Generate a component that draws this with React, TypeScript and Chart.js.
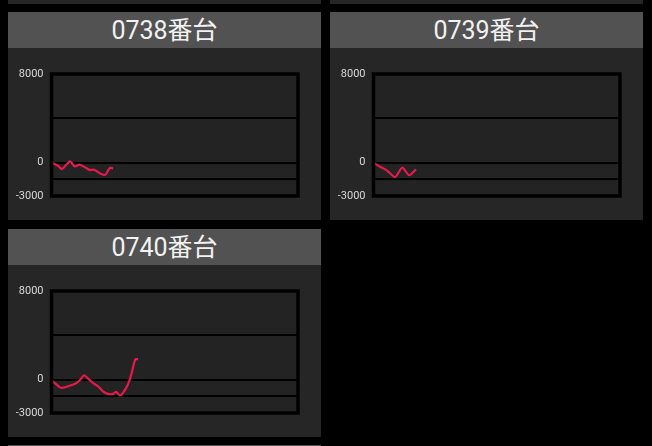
import React, { useEffect, useRef } from "react";
import { Chart, registerables } from "chart.js";

Chart.register(...registerables);

// ---- data ----
const MACHINES = ["0738番台", "0739番台", "0740番台"];
const HIDDEN_ABOVE = ["0736番台", "0737番台"];
const HIDDEN_BELOW = ["0741番台"];

const GAMES_0738 = [0, 210, 340, 600, 750, 920, 1130, 1240, 1380, 1620, 1750, 1890, 2000];
const DIFF_0738 = [0, -270, -570, 120, -330, -180, -480, -660, -630, -1020, -1080, -480, -510];

const GAMES_0739 = [0, 210, 430, 700, 930, 1160, 1380];
const DIFF_0739 = [0, -360, -690, -1290, -450, -1130, -600];

const GAMES_0740 = [0, 100, 320, 535, 750, 915, 1055, 1185, 1345, 1510, 1670, 1835, 2000, 2100, 2215, 2320, 2480, 2590, 2720, 2810];
const DIFF_0740 = [0, -290, -740, -590, -380, -70, 400, 110, -290, -590, -1040, -1280, -1280, -1100, -1420, -1190, -430, 470, 1850, 1850];

const SERIES_GAMES = [GAMES_0738, GAMES_0739, GAMES_0740];
const SERIES_DIFF = [DIFF_0738, DIFF_0739, DIFF_0740];

const Y_TICKS = [-3000, -1500, 0, 4000, 8000];
const Y_LABELED = [-3000, 0, 8000];
const X_MAX_GAMES = 8000;

// ---- layout/style ----
const PANEL_W = 313;
const PANEL_H = 208;
const HEADER_H = 36;
const BODY_H = PANEL_H - HEADER_H;
const COL_X = [8, 330];
const ROW_PITCH = 216.5;
const ROW0_TOP = 12;

const plotFrame = {
  id: "plotFrame",
  beforeDraw(chart: any) {
    const a = chart.chartArea;
    const ctx = chart.ctx;
    ctx.save();
    ctx.fillStyle = "#232323";
    ctx.fillRect(a.left, a.top, a.right - a.left, a.bottom - a.top);
    ctx.restore();
  },
  afterDatasetsDraw(chart: any) {
    const a = chart.chartArea;
    const ctx = chart.ctx;
    ctx.save();
    ctx.strokeStyle = "#000";
    ctx.lineWidth = 3.5;
    ctx.strokeRect(a.left, a.top, a.right - a.left, a.bottom - a.top);
    ctx.restore();
  },
};

function MiniChart({ idx }: { idx: number }) {
  const ref = useRef<HTMLCanvasElement | null>(null);
  useEffect(() => {
    if (!ref.current) return;
    const games = SERIES_GAMES[idx];
    const diff = SERIES_DIFF[idx];
    const chart = new Chart(ref.current, {
      type: "line",
      data: {
        datasets: [
          {
            data: games.map((g, i) => ({ x: g, y: diff[i] })),
            borderColor: "#e8194b",
            borderWidth: 2.2,
            pointRadius: 0,
            tension: 0.25,
            fill: false,
          },
        ],
      },
      options: {
        animation: false,
        responsive: false,
        events: [],
        layout: { padding: { top: 26, bottom: 24, right: 23, left: 0 } },
        plugins: { legend: { display: false }, tooltip: { enabled: false } },
        scales: {
          x: {
            type: "linear",
            min: 0,
            max: X_MAX_GAMES,
            display: false,
          },
          y: {
            min: -3000,
            max: 8000,
            afterBuildTicks: (scale: any) => {
              scale.ticks = Y_TICKS.map((v) => ({ value: v }));
            },
            afterFit: (scale: any) => {
              scale.width = 43.5;
            },
            border: { display: false },
            grid: { color: "#000", lineWidth: 2, drawTicks: false },
            ticks: {
              padding: 8,
              color: "#d8d8d8",
              font: { size: 11, family: "Roboto, 'Noto Sans', sans-serif" },
              callback: (v: any) => (Y_LABELED.includes(Number(v)) ? String(v) : ""),
            },
          },
        },
      },
      plugins: [plotFrame],
    } as any);
    return () => chart.destroy();
  }, [idx]);
  return <canvas ref={ref} width={PANEL_W} height={BODY_H} style={{ display: "block", width: PANEL_W, height: BODY_H }} />;
}

function Panel({ title, left, top, chartIdx }: { title: string; left: number; top: number; chartIdx?: number }) {
  return (
    <div style={{ position: "absolute", left, top, width: PANEL_W, height: PANEL_H, background: "#262626" }}>
      <div
        style={{
          height: HEADER_H,
          background: "#525252",
          color: "#f2f2f2",
          fontFamily: "Roboto, 'Noto Sans CJK JP', sans-serif",
          fontSize: 25,
          lineHeight: HEADER_H + 2 + "px",
          textAlign: "center",
        }}
      >
        {title}
      </div>
      {chartIdx !== undefined ? <MiniChart idx={chartIdx} /> : null}
    </div>
  );
}

export default function App() {
  return (
    <div style={{ position: "fixed", left: 0, top: 0, width: 652, height: 446, background: "#000", overflow: "hidden" }}>
      {HIDDEN_ABOVE.map((t, i) => (
        <Panel key={t} title={t} left={COL_X[i]} top={ROW0_TOP - ROW_PITCH} />
      ))}
      {MACHINES.map((t, i) => (
        <Panel key={t} title={t} left={COL_X[i % 2]} top={ROW0_TOP + Math.floor(i / 2) * ROW_PITCH} chartIdx={i} />
      ))}
      {HIDDEN_BELOW.map((t) => (
        <Panel key={t} title={t} left={COL_X[0]} top={ROW0_TOP + 2 * ROW_PITCH} />
      ))}
    </div>
  );
}
